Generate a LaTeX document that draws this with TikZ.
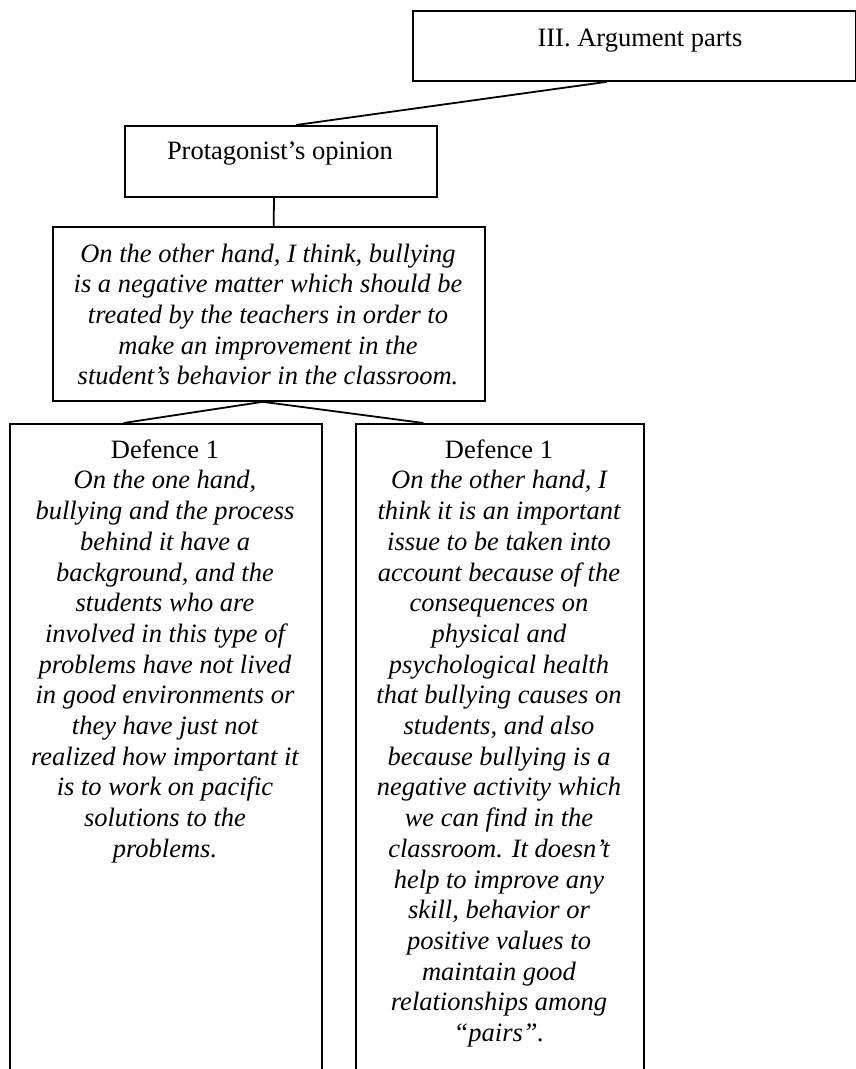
\documentclass[tikz,border=0pt]{standalone}
\usepackage{fontspec}
\setmainfont{Liberation Serif}
\usetikzlibrary{calc}
\begin{document}
\begin{tikzpicture}[x=1pt,y=-1pt,
  box/.style={draw, line width=1.8pt, inner sep=0pt, rectangle, anchor=north west},
  txt/.style={font=\fontsize{26.5}{30.7}\selectfont, align=center, inner sep=0pt, anchor=north},
  itxt/.style={txt, font=\fontsize{26.5}{30.7}\selectfont\itshape},
  link/.style={line width=1.8pt}]
\useasboundingbox (0,0) rectangle (856,1069);
\clip (0,0) rectangle (856,1069);
% boxes
\node[box, minimum width=443pt, minimum height=70pt] (top) at (412,10) {};
\node[box, minimum width=312pt, minimum height=71pt] (prot) at (124,125) {};
\node[box, minimum width=432pt, minimum height=174pt] (op) at (52,226) {};
\node[box, minimum width=312pt, minimum height=700pt] (d1) at (9,423) {};
\node[box, minimum width=288pt, minimum height=700pt] (d2) at (355,423) {};
% texts
\node[txt] (ttop) at (640,24.5) {\strut III. Argument parts};
\node[txt] (tprot) at (280,137.5) {\strut Protagonist’s opinion};
\node[itxt] (top1) at (268,240.5) {\strut On the other hand, I think, bullying\\
is a negative matter which should be\\
treated by the teachers in order to\\
make an improvement in the\\
student’s behavior in the classroom.};
\node[itxt] (td1) at (165,436.5) {\strut\upshape Defence 1\\
On the one hand,\\
bullying and the process\\
behind it have a\\
background, and the\\
students who are\\
involved in this type of\\
problems have not lived\\
in good environments or\\
they have just not\\
realized how important it\\
is to work on pacific\\
solutions to the\\
problems.};
\node[itxt] (td2) at (499,436.5) {\strut\upshape Defence 1\\
On the other hand, I\\
think it is an important\\
issue to be taken into\\
account because of the\\
consequences on\\
physical and\\
psychological health\\
that bullying causes on\\
students, and also\\
because bullying is a\\
negative activity which\\
we can find in the\\
classroom. It doesn’t\\
help to improve any\\
skill, behavior or\\
positive values to\\
maintain good\\
relationships among\\
“pairs”.};
% connector points
\coordinate (a1) at ($(top.south west)!0.438!(top.south east)$);
\coordinate (a2) at ($(prot.north west)!0.548!(prot.north east)$);
\coordinate (b1) at ($(prot.south west)!0.478!(prot.south east)$);
\coordinate (b2) at ($(op.north west)!0.511!(op.north east)$);
\coordinate (c0) at ($(op.south west)!0.486!(op.south east)$);
\coordinate (c1) at ($(d1.north west)!0.365!(d1.north east)$);
\coordinate (c2) at ($(d2.north west)!0.236!(d2.north east)$);
\draw[link] (a1) -- (a2);
\draw[link] (b1) -- (b2);
\draw[link] (c1) -- (c0) -- (c2);
\end{tikzpicture}
\end{document}
